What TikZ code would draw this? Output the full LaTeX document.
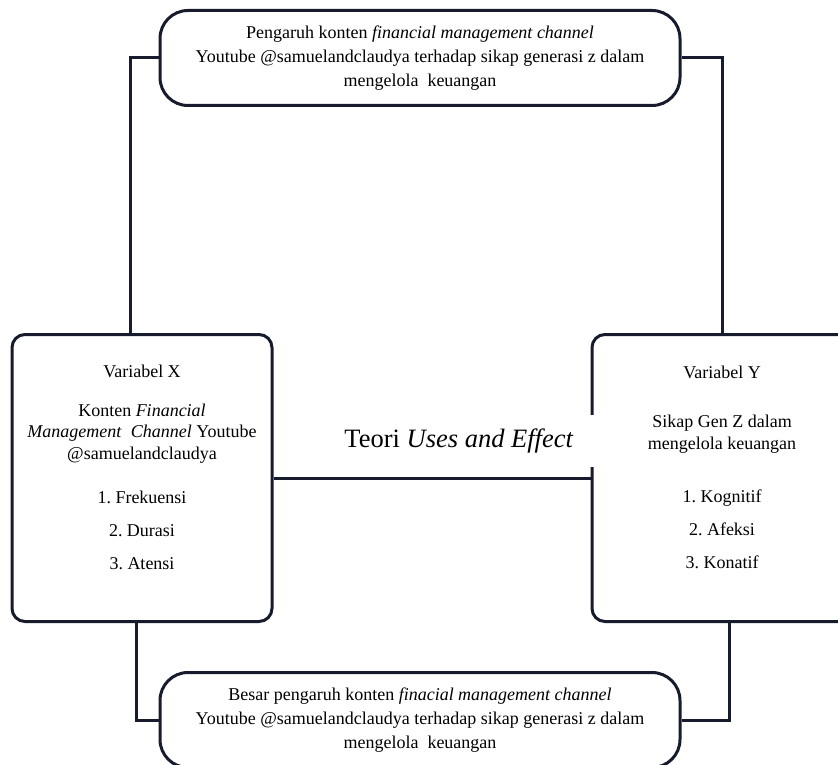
\documentclass[tikz,border=0pt]{standalone}
\usepackage{fontspec}
\setmainfont{Liberation Serif}
\usetikzlibrary{positioning}
\definecolor{linecol}{RGB}{22,28,45}
\frenchspacing

\begin{document}
\begin{tikzpicture}
          [x=1pt, y=-1pt,
           bigbox/.style={draw=linecol, line width=3pt, rounded corners=28pt,
             minimum width=520pt, minimum height=95pt, align=center,
             font=\fontsize{18}{24}\selectfont},
           varbox/.style={draw=linecol, line width=3pt, rounded corners=13pt,
             minimum width=260pt, minimum height=287pt, align=center,
             font=\fontsize{18}{21.5}\selectfont},
           link/.style={draw=linecol, line width=3pt}]
          \useasboundingbox (0,0) rectangle (838,765);
          \clip (0,0) rectangle (838,765);

          \node (top) [bigbox] at (420,58)
            {Pengaruh konten \textit{financial management channel}\\
             Youtube @samuelandclaudya terhadap sikap generasi z dalam\\
             mengelola\ \ keuangan};
          \node (bottom) [bigbox] at (420,720)
            {Besar pengaruh konten \textit{finacial management channel}\\
             Youtube @samuelandclaudya terhadap sikap generasi z dalam\\
             mengelola\ \ keuangan};
          \node (varx) [varbox] at (142,478)
            {Variabel X\\[17.5pt]
             Konten \textit{Financial}\\
             \textit{Management}\ \ \textit{Channel} Youtube\\
             @samuelandclaudya\\[22.5pt]
             1. Frekuensi\\[11.5pt]
             2. Durasi\\[11.5pt]
             3. Atensi\\ \mbox{}};
          \node (vary) [varbox] at (722,478)
            {Variabel Y\\[28pt]
             Sikap Gen Z dalam\\
             mengelola keuangan\\[32pt]
             1. Kognitif\\[11.5pt]
             2. Afeksi\\[11.5pt]
             3. Konatif\\ \mbox{}};

          \draw[link] (top.west) -| ([xshift=-12pt]varx.north);
          \draw[link] (top.east) -| (vary.north);
          \draw[link] ([xshift=-6pt]varx.south) |- (bottom.west);
          \draw[link] ([xshift=7pt]vary.south) |- (bottom.east);
          \draw[link] (varx.east) -- (vary.west);

          \node (teori) [fill=white, inner xsep=20pt, inner ysep=14pt,
            font=\fontsize{26.5}{30}\selectfont] at (459,441)
            {Teori \textit{Uses and Effect}};
\end{tikzpicture}
\end{document}
